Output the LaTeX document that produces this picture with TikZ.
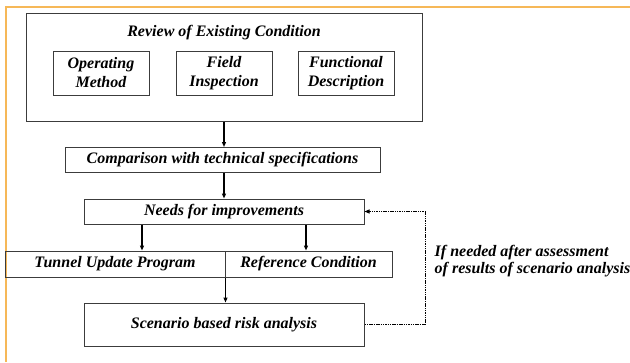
\documentclass[tikz,border=0pt]{standalone}
\usepackage{fontspec}
\setmainfont{Liberation Serif}
\usetikzlibrary{arrows.meta,calc}
\definecolor{frameorange}{RGB}{246,184,88}
\definecolor{boxgray}{RGB}{60,60,60}
\begin{document}
\begin{tikzpicture}[x=1pt,y=-1pt,
  txt/.style={font=\fontsize{16}{19}\selectfont\bfseries\itshape},
  box/.style={draw=boxgray,line width=1pt,txt,inner sep=0pt,align=center},
  arr/.style={line width=1.2pt,-{Triangle[length=5pt,width=4pt]}},
  dashline/.style={line width=1pt,dash pattern=on 1.5pt off 0.8pt,-{Triangle[length=5pt,width=4pt]}}]
\useasboundingbox (0,0) rectangle (630,362);
\fill[white] (0,0) rectangle (630,362);
\draw[frameorange,line width=1.6pt] (6,362) -- (6,7) -- (630,7);
% review box
\node[box,minimum width=396pt,minimum height=108pt] (rev) at (224,67) {};
\node[txt] (revt) at (224,33) {Review of Existing Condition};
\node[box,minimum width=96pt,minimum height=44pt] (op) at (101,73) {Operating\\Method};
\node[box,minimum width=96pt,minimum height=44pt] (fi) at (224,73) {Field\\Inspection};
\node[box,minimum width=96pt,minimum height=44pt] (fd) at (346,73) {Functional\\Description};
\node[box,minimum width=315pt,minimum height=25pt] (comp) at (222.5,160) {Comparison with technical specifications};
\node[box,minimum width=280pt,minimum height=25pt] (need) at (224,211.5) {Needs for improvements};
\node[box,minimum width=220pt,minimum height=26pt] (tun) at (115,264) {\raisebox{1.5pt}{Tunnel Update Program}};
\node[box,minimum width=167pt,minimum height=26pt] (ref) at (308.5,264) {\raisebox{-1pt}{Reference Condition}};
\node[box,minimum width=280pt,minimum height=43pt] (scen) at (224,324.5) {Scenario based risk analysis};
\node[font=\fontsize{16}{17.5}\selectfont\bfseries\itshape,anchor=west,align=left,inner sep=0pt] (lab) at (434.5,261) {If needed after assessment\\of results of scenario analysis};
\coordinate (xa) at (142,0);
\coordinate (xb) at (306,0);
\coordinate (xd) at (425,0);
% connectors
\draw[arr] (rev.south) -- (rev.south |- comp.north);
\draw[arr] (rev.south |- comp.south) -- (rev.south |- need.north);
\draw[arr] (need.south -| xa) -- (tun.north -| xa);
\draw[arr] (need.south -| xb) -- (ref.north -| xb);
\draw[arr] (tun.south east) -- (tun.south east |- scen.north);
\draw[dashline] (scen.east) -- (scen.east -| xd) -- (need.east -| xd) -- (need.east);
\end{tikzpicture}
\end{document}
